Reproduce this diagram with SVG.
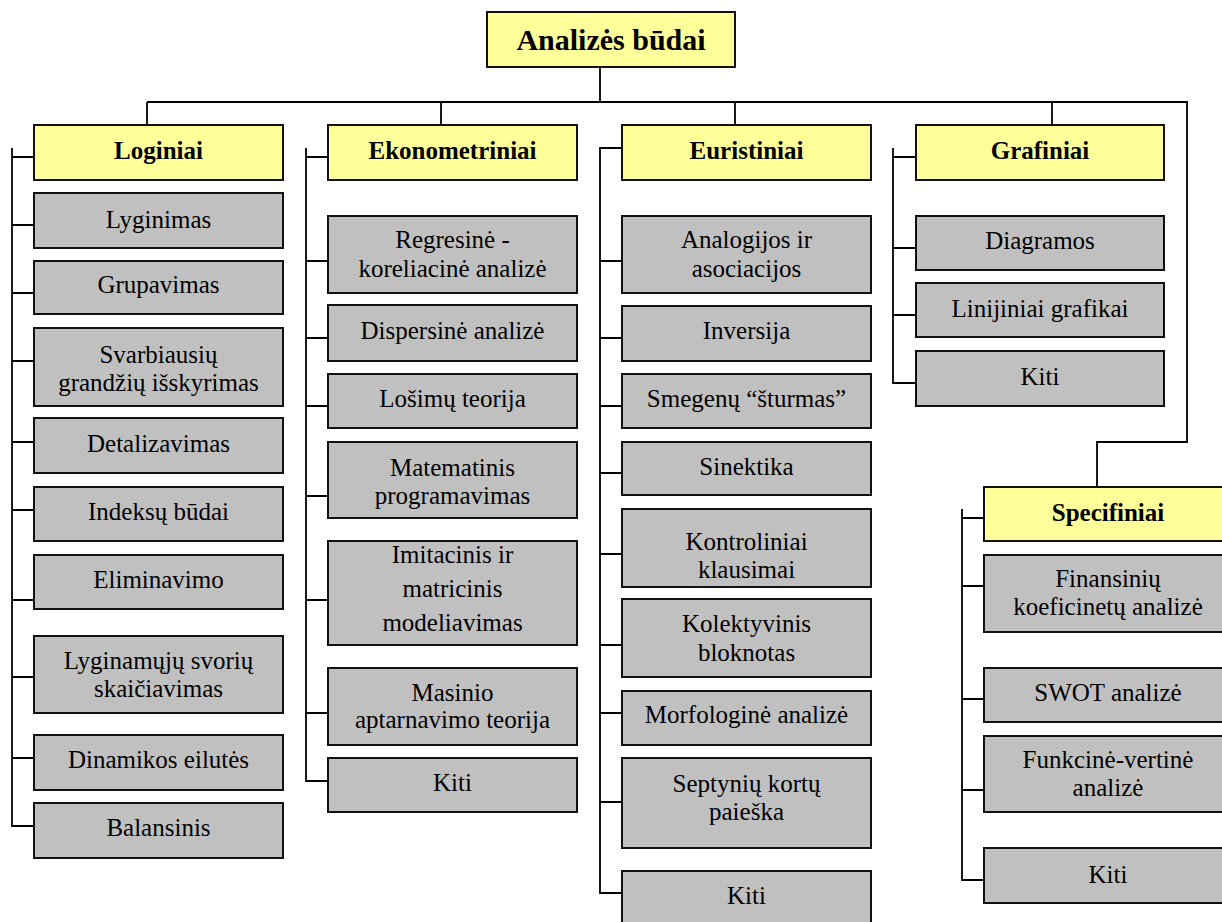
<svg xmlns="http://www.w3.org/2000/svg" width="1222" height="922" viewBox="0 0 1222 922">
<style>
.cat{fill:#FFFF99;stroke:#111;stroke-width:2}
.item{fill:#C0C0C0;stroke:#111;stroke-width:2}
text{font-family:'Liberation Serif','DejaVu Serif',serif;fill:#000;text-anchor:middle}
.t{font-size:25px}
.tb{font-size:25px;font-weight:bold}
.title{font-size:30px;font-weight:bold}
.c{fill:none;stroke:#000;stroke-width:1.8}
</style>
<rect width="1222" height="922" fill="#fff"/>
<g id="connectors">
<path class="c" d="M600 57V102M147 102H1187V442H1097V487M147 102V125M441 102V125M735 102V125M1052 102V125"/>
<path class="c" d="M12 148V826H34M12 157H34M12 225H34M12 293H34M12 361H34M12 442H34M12 510H34M12 600H34M12 677H34M12 758H34"/>
<path class="c" d="M306 148V781H328M306 157H328M306 261H328M306 338H328M306 406H328M306 496H328M306 600H328M306 713H328"/>
<path class="c" d="M622 148H600V893H622M600 261H622M600 338H622M600 406H622M600 473H622M600 554H622M600 645H622M600 713H622M600 802H622"/>
<path class="c" d="M893 148V383H916M893 157H916M893 248H916M893 315H916"/>
<path class="c" d="M962 509V880H984M962 518H984M962 586H984M962 699H984M962 790H984"/>
</g>
<g id="root"><rect class="cat" x="487" y="12" width="248" height="55"/><text class="title" x="611" y="50">Analizės būdai</text></g>
<g id="loginiai"><rect class="cat" x="34" y="125" width="249" height="55"/><text class="tb" x="158.5" y="159">Loginiai</text></g>
<g id="ekonometriniai"><rect class="cat" x="328" y="125" width="249" height="55"/><text class="tb" x="452.5" y="159">Ekonometriniai</text></g>
<g id="euristiniai"><rect class="cat" x="622" y="125" width="249" height="55"/><text class="tb" x="746.5" y="159">Euristiniai</text></g>
<g id="grafiniai"><rect class="cat" x="916" y="125" width="248" height="55"/><text class="tb" x="1040" y="159">Grafiniai</text></g>
<g id="specifiniai"><rect class="cat" x="984" y="487" width="248" height="54"/><text class="tb" x="1108" y="521">Specifiniai</text></g>

<g id="l1"><rect class="item" x="34" y="193" width="249" height="55"/><text class="t" x="158.5" y="228">Lyginimas</text></g>
<g id="l2"><rect class="item" x="34" y="261" width="249" height="53"/><text class="t" x="158.5" y="293">Grupavimas</text></g>
<g id="l3"><rect class="item" x="34" y="328" width="249" height="78"/><text class="t" x="158.5" y="363">Svarbiausių</text><text class="t" x="158.5" y="391">grandžių išskyrimas</text></g>
<g id="l4"><rect class="item" x="34" y="418" width="249" height="55"/><text class="t" x="158.5" y="452">Detalizavimas</text></g>
<g id="l5"><rect class="item" x="34" y="487" width="249" height="54"/><text class="t" x="158.5" y="520">Indeksų būdai</text></g>
<g id="l6"><rect class="item" x="34" y="555" width="249" height="54"/><text class="t" x="158.5" y="588">Eliminavimo</text></g>
<g id="l7"><rect class="item" x="34" y="636" width="249" height="77"/><text class="t" x="158.5" y="669">Lyginamųjų svorių</text><text class="t" x="158.5" y="697">skaičiavimas</text></g>
<g id="l8"><rect class="item" x="34" y="735" width="249" height="55"/><text class="t" x="158.5" y="768">Dinamikos eilutės</text></g>
<g id="l9"><rect class="item" x="34" y="803" width="249" height="55"/><text class="t" x="158.5" y="836">Balansinis</text></g>

<g id="e1"><rect class="item" x="328" y="216" width="249" height="77"/><text class="t" x="452.5" y="248">Regresinė -</text><text class="t" x="452.5" y="277">koreliacinė analizė</text></g>
<g id="e2"><rect class="item" x="328" y="305" width="249" height="56"/><text class="t" x="452.5" y="339">Dispersinė analizė</text></g>
<g id="e3"><rect class="item" x="328" y="374" width="249" height="54"/><text class="t" x="452.5" y="407">Lošimų teorija</text></g>
<g id="e4"><rect class="item" x="328" y="442" width="249" height="76"/><text class="t" x="452.5" y="476">Matematinis</text><text class="t" x="452.5" y="504">programavimas</text></g>
<g id="e5"><rect class="item" x="328" y="541" width="249" height="104"/><text class="t" x="452.5" y="563">Imitacinis ir</text><text class="t" x="452.5" y="597">matricinis</text><text class="t" x="452.5" y="631">modeliavimas</text></g>
<g id="e6"><rect class="item" x="328" y="668" width="249" height="77"/><text class="t" x="452.5" y="701">Masinio</text><text class="t" x="452.5" y="728">aptarnavimo teorija</text></g>
<g id="e7"><rect class="item" x="328" y="758" width="249" height="54"/><text class="t" x="452.5" y="791">Kiti</text></g>

<g id="u1"><rect class="item" x="622" y="216" width="249" height="77"/><text class="t" x="746.5" y="248">Analogijos ir</text><text class="t" x="746.5" y="277">asociacijos</text></g>
<g id="u2"><rect class="item" x="622" y="306" width="249" height="55"/><text class="t" x="746.5" y="339">Inversija</text></g>
<g id="u3"><rect class="item" x="622" y="374" width="249" height="54"/><text class="t" x="746.5" y="407">Smegenų “šturmas”</text></g>
<g id="u4"><rect class="item" x="622" y="442" width="249" height="53"/><text class="t" x="746.5" y="475">Sinektika</text></g>
<g id="u5"><rect class="item" x="622" y="509" width="249" height="78"/><text class="t" x="746.5" y="550">Kontroliniai</text><text class="t" x="746.5" y="578">klausimai</text></g>
<g id="u6"><rect class="item" x="622" y="599" width="249" height="78"/><text class="t" x="746.5" y="632">Kolektyvinis</text><text class="t" x="746.5" y="661">bloknotas</text></g>
<g id="u7"><rect class="item" x="622" y="691" width="249" height="54"/><text class="t" x="746.5" y="723">Morfologinė analizė</text></g>
<g id="u8"><rect class="item" x="622" y="758" width="249" height="90"/><text class="t" x="746.5" y="792">Septynių kortų</text><text class="t" x="746.5" y="820">paieška</text></g>
<g id="u9"><rect class="item" x="622" y="871" width="249" height="55"/><text class="t" x="746.5" y="904">Kiti</text></g>

<g id="g1"><rect class="item" x="916" y="216" width="248" height="54"/><text class="t" x="1040" y="249">Diagramos</text></g>
<g id="g2"><rect class="item" x="916" y="283" width="248" height="54"/><text class="t" x="1040" y="317">Linijiniai grafikai</text></g>
<g id="g3"><rect class="item" x="916" y="351" width="248" height="55"/><text class="t" x="1040" y="385">Kiti</text></g>

<g id="s1"><rect class="item" x="984" y="555" width="248" height="77"/><text class="t" x="1108" y="587">Finansinių</text><text class="t" x="1108" y="615">koeficinetų analizė</text></g>
<g id="s2"><rect class="item" x="984" y="668" width="248" height="54"/><text class="t" x="1108" y="701">SWOT analizė</text></g>
<g id="s3"><rect class="item" x="984" y="736" width="248" height="76"/><text class="t" x="1108" y="768">Funkcinė-vertinė</text><text class="t" x="1108" y="796">analizė</text></g>
<g id="s4"><rect class="item" x="984" y="848" width="248" height="55"/><text class="t" x="1108" y="883">Kiti</text></g>
</svg>
